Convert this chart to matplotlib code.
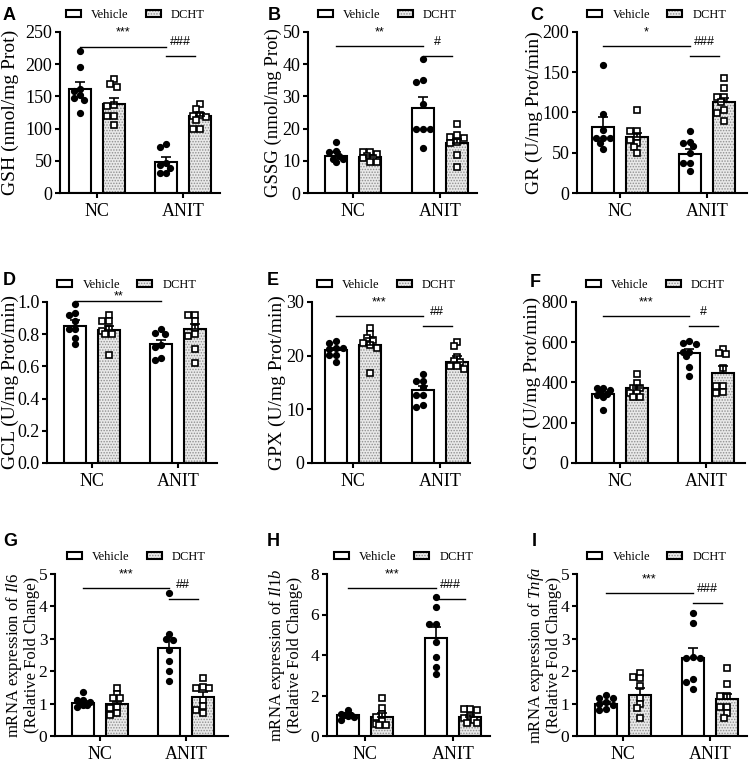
import matplotlib
matplotlib.use('Agg')
import matplotlib.pyplot as plt
import numpy as np
from matplotlib.patches import Patch

plt.rcParams['font.family'] = ['Liberation Serif', 'DejaVu Serif']
plt.rcParams['mathtext.fontset'] = 'custom'
plt.rcParams['mathtext.rm'] = 'Liberation Serif'
plt.rcParams['mathtext.it'] = 'Liberation Serif:italic'
plt.rcParams['hatch.linewidth'] = 0.7

categories = ['NC', 'ANIT']
groups = ['Vehicle', 'DCHT']

# ---- data: [Vehicle, DCHT] x [NC, ANIT] ----
gsh_mean = [[161, 48], [138, 120]]
gsh_sem = [[12, 8], [10, 4]]
gsh_pts = [[[221, 196, 162, 158, 152, 148, 145, 124], [76, 72, 46, 44, 39, 31, 31]],
           [[177, 170, 164, 137, 135, 120, 120, 106], [138, 131, 121, 120, 118, 113, 100, 100]]]

gssg_mean = [[11.6, 26.5], [11.3, 15.5]]
gssg_sem = [[1.0, 3.4], [0.5, 1.3]]
gssg_pts = [[[15.7, 12.9, 12.7, 11.5, 10.5, 10.5, 9.5], [41.5, 35.0, 34.5, 27.5, 20.0, 20.0, 20.0, 13.9]],
            [[12.6, 12.6, 12.0, 11.5, 10.8, 10.8, 9.5, 9.5], [21.4, 18.0, 17.3, 17.0, 15.7, 15.5, 11.9, 8.2]]]

gr_mean = [[82, 49], [70, 113]]
gr_sem = [[12, 6], [5, 5]]
gr_pts = [[[159, 98, 78, 68, 68, 68, 62, 55], [77, 63, 62, 58, 50, 37, 37, 27]],
          [[103, 77, 77, 70, 66, 62, 57, 50], [143, 131, 119, 119, 113, 103, 99, 90]]]

gcl_mean = [[0.853, 0.739], [0.828, 0.834]]
gcl_sem = [[0.033, 0.027], [0.025, 0.032]]
gcl_pts = [[[0.988, 0.932, 0.917, 0.88, 0.834, 0.834, 0.776, 0.741], [0.83, 0.81, 0.80, 0.73, 0.72, 0.65, 0.64]],
           [[0.92, 0.88, 0.88, 0.83, 0.82, 0.80, 0.80, 0.67], [0.92, 0.92, 0.88, 0.84, 0.80, 0.79, 0.71, 0.62]]]

gpx_mean = [[21.0, 13.6], [22.0, 18.9]]
gpx_sem = [[0.5, 0.75], [1.2, 1.0]]
gpx_pts = [[[22.8, 22.4, 21.5, 21.5, 21.3, 20.2, 20.2, 18.9], [16.5, 15.3, 15.3, 14.2, 12.7, 12.7, 10.8, 10.5]],
           [[25.2, 24.1, 23.2, 23.0, 22.3, 22.0, 21.5, 16.7], [22.6, 21.8, 19.8, 19.0, 18.8, 18.1, 18.1, 17.5]]]

gst_mean = [[343, 548], [371, 446]]
gst_sem = [[9, 16], [12, 36]]
gst_pts = [[[371, 371, 363, 347, 343, 340, 330, 264], [607, 594, 589, 553, 553, 531, 479, 432]],
           [[440, 396, 371, 371, 350, 350, 330, 330], [566, 545, 541, 470, 383, 383, 355, 350]]]

il6_mean = [[1.01, 2.71], [0.98, 1.19]]
il6_sem = [[0.07, 0.33], [0.08, 0.16]]
il6_pts = [[[1.35, 1.11, 1.11, 1.06, 0.98, 0.96, 0.96, 0.91], [4.4, 3.15, 3.0, 2.95, 2.65, 2.3, 2.0, 1.7]],
           [[1.47, 1.30, 1.16, 1.16, 0.91, 0.86, 0.70, 0.65], [1.80, 1.50, 1.49, 1.48, 1.10, 0.92, 0.80, 0.70]]]

il1b_mean = [[1.04, 4.86], [0.95, 0.92]]
il1b_sem = [[0.08, 0.5], [0.2, 0.12]]
il1b_pts = [[[1.28, 1.10, 1.05, 1.02, 1.00, 0.95, 0.79], [6.85, 6.39, 5.53, 5.53, 4.66, 3.92, 3.42, 3.05]],
            [[1.86, 1.37, 1.07, 0.95, 0.75, 0.60, 0.54, 0.54], [1.33, 1.33, 1.30, 1.00, 0.87, 0.80, 0.65, 0.63]]]

tnfa_mean = [[0.98, 2.42], [1.27, 1.14]]
tnfa_sem = [[0.08, 0.31], [0.2, 0.15]]
tnfa_pts = [[[1.27, 1.16, 1.16, 1.06, 1.00, 0.96, 0.83, 0.80], [3.81, 3.50, 2.45, 2.42, 2.40, 1.76, 1.68, 1.44]],
            [[1.95, 1.83, 1.78, 1.55, 1.18, 0.98, 0.85, 0.55], [2.11, 1.60, 1.23, 1.23, 0.91, 0.90, 0.70, 0.57]]]

# ---- layout / style per panel ----
W, H = 750, 763
rows = {0: (32, 193), 1: (302, 463), 2: (574, 736)}
panels = [
    dict(letter='A', row=0, px=(60, 97, 183, 220), lp=(3, 7), mean=gsh_mean, sem=gsh_sem, pts=gsh_pts,
         ylim=250, step=50, fmt='{:.0f}', ylabel='GSH (nmol/mg Prot)', lab_dx=-49.5, lab_fs=14,
         sig=('***', 227, '###', 213), toff=10),
    dict(letter='B', row=0, px=(308, 353, 440, 477), lp=(268, 7), mean=gssg_mean, sem=gssg_sem, pts=gssg_pts,
         ylim=50, step=10, fmt='{:.0f}', ylabel='GSSG (nmol/mg Prot)', lab_dx=-34.5, lab_fs=13.5,
         sig=('**', 45.6, '#', 42.5), toff=10),
    dict(letter='C', row=0, px=(577, 620, 707, 747), lp=(530, 7), mean=gr_mean, sem=gr_sem, pts=gr_pts,
         ylim=200, step=50, fmt='{:.0f}', ylabel='GR (U/mg Prot/min)', lab_dx=-42.5, lab_fs=14,
         sig=('*', 182.7, '###', 170), toff=10),
    dict(letter='D', row=1, px=(47, 92, 178, 217), lp=(3, 272), mean=gcl_mean, sem=gcl_sem, pts=gcl_pts,
         ylim=1.0, step=0.2, fmt='{:.1f}', ylabel='GCL (U/mg Prot/min)', lab_dx=-36.5, lab_fs=14,
         sig=('**', 1.004, None, None), toff=3.5),
    dict(letter='E', row=1, px=(312, 353, 440, 470), lp=(267, 272), mean=gpx_mean, sem=gpx_sem, pts=gpx_pts,
         ylim=30, step=10, fmt='{:.0f}', ylabel='GPX (U/mg Prot/min)', lab_dx=-34.5, lab_fs=14,
         sig=('***', 27.3, '##', 25.5), toff=10),
    dict(letter='F', row=1, px=(576, 620, 706, 745), lp=(530, 274), mean=gst_mean, sem=gst_sem, pts=gst_pts,
         ylim=800, step=200, fmt='{:.0f}', ylabel='GST (U/mg Prot/min)', lab_dx=-43.5, lab_fs=14,
         sig=('***', 731, '#', 680), toff=10),
    dict(letter='G', row=2, px=(55, 100, 186, 228), lp=(3, 533), mean=il6_mean, sem=il6_sem, pts=il6_pts,
         ylim=5, step=1, fmt='{:.0f}', ylabel='mRNA expression of $\\mathit{Il6}$\n(Relative Fold Change)',
         lab_dx=-33, lab_fs=12, sig=('***', 4.57, '##', 4.23), toff=10),
    dict(letter='H', row=2, px=(327, 365, 453, 490), lp=(267, 533), mean=il1b_mean, sem=il1b_sem, pts=il1b_pts,
         ylim=8, step=2, fmt='{:.0f}', ylabel='mRNA expression of $\\mathit{Il1b}$\n(Relative Fold Change)',
         lab_dx=-42, lab_fs=12, sig=('***', 7.29, '###', 6.75), toff=10),
    dict(letter='I', row=2, px=(577, 623, 710, 747), lp=(532, 533), mean=tnfa_mean, sem=tnfa_sem, pts=tnfa_pts,
         ylim=5, step=1, fmt='{:.0f}', ylabel='mRNA expression of $\\mathit{Tnfa}$\n(Relative Fold Change)',
         lab_dx=-33, lab_fs=12, sig=('***', 4.40, '###', 4.12), toff=10),
]

OFF = 0.195
BW = 0.25
DCHT_FACE = '#e9e9e9'
DCHT_HATCH = '#8f8f8f'
LW = 1.5

fig = plt.figure(figsize=(W / 100, H / 100), dpi=100)


def swarm(ax, xc, vals, dmin=5.2):
    disp = ax.transData.transform(np.column_stack([np.full(len(vals), xc), vals]))
    ys = disp[:, 1]
    xpx_per_unit = ax.transData.transform((1, 0))[0] - ax.transData.transform((0, 0))[0]
    cands = [0.0, -3.4, 3.4, -6.6, 6.6]
    placed = []
    offs = np.zeros(len(vals))
    order = np.argsort(-np.asarray(vals))
    for i in order:
        best, best_d = 0.0, -1
        for dx in cands:
            d = min([np.hypot(dx - px, ys[i] - py) for px, py in placed] + [1e9])
            if d >= dmin:
                best = dx
                break
            if d > best_d:
                best, best_d = dx, d
        placed.append((best, ys[i]))
        offs[i] = best / xpx_per_unit
    return xc + offs


for p in panels:
    top, bot = rows[p['row']]
    left, nc, anit, right = p['px']
    unit = anit - nc
    ax = fig.add_axes([left / W, 1 - bot / H, (right - left) / W, (bot - top) / H])
    ax.set_xlim(-(nc - left) / unit, 1 + (right - anit) / unit)
    ax.set_ylim(0, p['ylim'])
    x = np.arange(len(categories))

    # bars
    ax.bar(x - OFF, p['mean'][0], BW, color='white', edgecolor='black', linewidth=LW, zorder=2)
    ax.bar(x + OFF, p['mean'][1], BW, color=DCHT_FACE, edgecolor=DCHT_HATCH, hatch='......',
           linewidth=0, zorder=2)
    ax.bar(x + OFF, p['mean'][1], BW, fill=False, edgecolor='black', linewidth=LW, zorder=2.5)

    # points
    for gi, sign in enumerate([-1, 1]):
        for ci in range(len(categories)):
            vals = p['pts'][gi][ci]
            xs = swarm(ax, ci + sign * OFF, vals)
            if gi == 0:
                ax.plot(xs, vals, 'o', ms=4.2, color='black', zorder=3, clip_on=False)
            else:
                ax.plot(xs, vals, 's', ms=4.4, mfc='white', mec='black', mew=1.2, zorder=3, clip_on=False)

    # error bars (SEM, upward)
    for gi, sign in enumerate([-1, 1]):
        ax.errorbar(x + sign * OFF, p['mean'][gi], yerr=[np.zeros(2), p['sem'][gi]], fmt='none',
                    ecolor='black', elinewidth=1.2, capsize=3.3, capthick=1.2, zorder=4)

    # significance
    s1, y1, s2, y2 = p['sig']
    ax.plot([0 - OFF, 1 - OFF], [y1, y1], color='black', lw=1.0, clip_on=False)
    ax.annotate(s1, xy=(0.5 - OFF, y1), xytext=(0, p['toff']), textcoords='offset points',
                ha='center', va='center', fontsize=9, family=['Liberation Sans'], annotation_clip=False)
    if s2:
        xa, xb = 1 - OFF, 1 + 0.135
        ax.plot([xa, xb], [y2, y2], color='black', lw=1.0, clip_on=False)
        ax.annotate(s2, xy=((xa + xb) / 2, y2), xytext=(0, p['toff']), textcoords='offset points',
                    ha='center', va='center', fontsize=9, family=['Liberation Sans'], annotation_clip=False)

    # axes styling
    ticks = np.arange(0, p['ylim'] + p['step'] / 2, p['step'])
    ax.set_yticks(ticks)
    ax.set_yticklabels([p['fmt'].format(t) for t in ticks])
    ax.set_xticks(x)
    ax.set_xticklabels(categories)
    for s in ['top', 'right']:
        ax.spines[s].set_visible(False)
    for s in ['left', 'bottom']:
        ax.spines[s].set_linewidth(LW)
    tsize = 12.5 if p['row'] == 2 else 13
    ax.tick_params(axis='both', direction='out', length=3.5, width=LW, labelsize=tsize, pad=2)
    ax.tick_params(axis='x', pad=4, labelsize=13)

    ax.set_ylabel(p['ylabel'], fontsize=p['lab_fs'], va='center', linespacing=1.0)
    ax.yaxis.set_label_coords(p['lab_dx'] / (right - left), 0.5)

    # legend
    h1 = Patch(facecolor='white', edgecolor='black', linewidth=LW)
    h2a = Patch(facecolor=DCHT_FACE, edgecolor=DCHT_HATCH, hatch='......', linewidth=0)
    h2b = Patch(facecolor='none', edgecolor='black', linewidth=LW)
    ax.legend([h1, (h2a, h2b)], groups, loc='center', bbox_to_anchor=(0.47, 1.106), ncol=2,
              frameon=False, fontsize=9, handlelength=1.2, handleheight=0.5, handletextpad=0.8,
              columnspacing=1.4, borderaxespad=0, borderpad=0)

    fig.text(p['lp'][0] / W, 1 - p['lp'][1] / H, p['letter'], fontsize=13, fontweight='bold',
             family=['Liberation Sans'], ha='left', va='top')

fig.savefig('out.png', dpi=100)
